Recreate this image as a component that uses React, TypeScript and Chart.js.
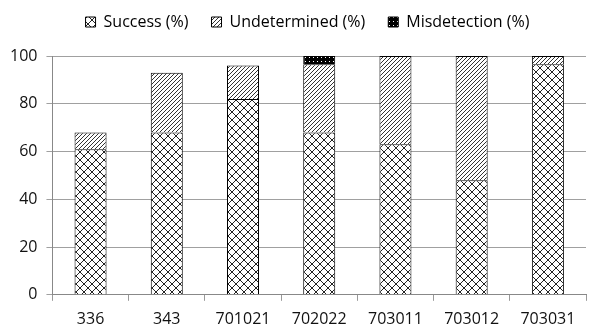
import React, { useEffect, useRef } from "react";
import { Chart, registerables } from "chart.js";

Chart.register(...registerables);

const categories = ["336", "343", "701021", "702022", "703011", "703012", "703031"];
const successValues = [61, 68, 82, 68, 63, 48, 96.5];
const undeterminedValues = [7, 25, 14, 28.5, 37, 52, 3.5];
const misdetectionValues = [0, 0, 0, 3.5, 0, 0, 0];
const seriesLabels = ["Success (%)", "Undetermined (%)", "Misdetection (%)"];
const yTicks = [0, 20, 40, 60, 80, 100];

const FONT = "Open Sans, Liberation Sans, sans-serif";

function makePattern(kind: string): CanvasPattern | string {
  const c = document.createElement("canvas");
  const ctx = c.getContext("2d");
  if (!ctx) return "#fff";
  if (kind === "cross") {
    c.width = 8;
    c.height = 8;
    ctx.fillStyle = "#fff";
    ctx.fillRect(0, 0, 8, 8);
    ctx.strokeStyle = "#222";
    ctx.lineWidth = 1;
    ctx.beginPath();
    ctx.moveTo(0, 0);
    ctx.lineTo(8, 8);
    ctx.moveTo(0, 8);
    ctx.lineTo(8, 0);
    ctx.stroke();
  } else if (kind === "diag") {
    c.width = 4;
    c.height = 4;
    ctx.fillStyle = "#fff";
    ctx.fillRect(0, 0, 4, 4);
    ctx.strokeStyle = "#333";
    ctx.lineWidth = 1;
    ctx.beginPath();
    ctx.moveTo(-1, 5);
    ctx.lineTo(5, -1);
    ctx.moveTo(-1, 1);
    ctx.lineTo(1, -1);
    ctx.moveTo(3, 5);
    ctx.lineTo(5, 3);
    ctx.stroke();
  } else {
    c.width = 4;
    c.height = 4;
    ctx.fillStyle = "#000";
    ctx.fillRect(0, 0, 4, 4);
    ctx.fillStyle = "#fff";
    ctx.fillRect(1, 1, 1, 1);
  }
  return ctx.createPattern(c, "repeat") || "#fff";
}

const legendTweak = {
  id: "legendTweak",
  afterInit(chart: any) {
    const legend = chart.legend;
    if (!legend) return;
    const origFit = legend.fit;
    legend.fit = function () {
      origFit.call(this);
      this.height += 7;
    };
  },
  afterLayout(chart: any) {
    const legend = chart.legend;
    if (!legend) return;
    legend.left += 14;
    legend.right += 14;
    legend.top -= 9;
    legend.bottom -= 9;
  },
};

export default function App() {
  const ref = useRef<HTMLCanvasElement | null>(null);
  useEffect(() => {
    if (!ref.current) return;
    const cross = makePattern("cross");
    const diag = makePattern("diag");
    const dots = makePattern("dots");
    const common = {
      borderColor: "#000",
      borderWidth: 1,
      barPercentage: 0.42,
      categoryPercentage: 1,
    };
    const chart = new Chart(ref.current, {
      type: "bar",
      data: {
        labels: categories,
        datasets: [
          { label: seriesLabels[0], data: successValues, backgroundColor: cross, ...common },
          { label: seriesLabels[1], data: undeterminedValues, backgroundColor: diag, ...common },
          { label: seriesLabels[2], data: misdetectionValues, backgroundColor: dots, ...common },
        ],
      },
      plugins: [legendTweak],
      options: {
        animation: false,
        responsive: false,
        maintainAspectRatio: false,
        layout: { padding: { left: 1, right: 4, top: 0, bottom: -9 } },
        plugins: {
          tooltip: { enabled: false },
          legend: {
            position: "top",
            align: "center",
            labels: {
              boxWidth: 10,
              boxHeight: 10,
              padding: 23,
              color: "#000",
              font: { family: FONT, size: 16 },
            },
          },
        },
        scales: {
          x: {
            stacked: true,
            offset: true,
            grid: {
              offset: true,
              drawOnChartArea: false,
              drawTicks: true,
              tickLength: 6,
              color: "#999",
            },
            border: { color: "#888", width: 1 },
            ticks: {
              color: "#111",
              padding: 9,
              font: { family: FONT, size: 16 },
            },
          },
          y: {
            stacked: true,
            min: 0,
            max: 100,
            afterBuildTicks: (axis: any) => {
              axis.ticks = yTicks.map((v) => ({ value: v }));
            },
            grid: { color: "#a0a0a0", tickLength: 6 },
            border: { color: "#888", width: 1 },
            ticks: {
              color: "#111",
              padding: 9,
              font: { family: FONT, size: 16 },
            },
          },
        },
      },
    });
    return () => chart.destroy();
  }, []);
  return (
    <div style={{ position: "fixed", left: 0, top: 0, width: 590, height: 329, background: "#fff" }}>
      <canvas ref={ref} width={590} height={329} />
    </div>
  );
}
